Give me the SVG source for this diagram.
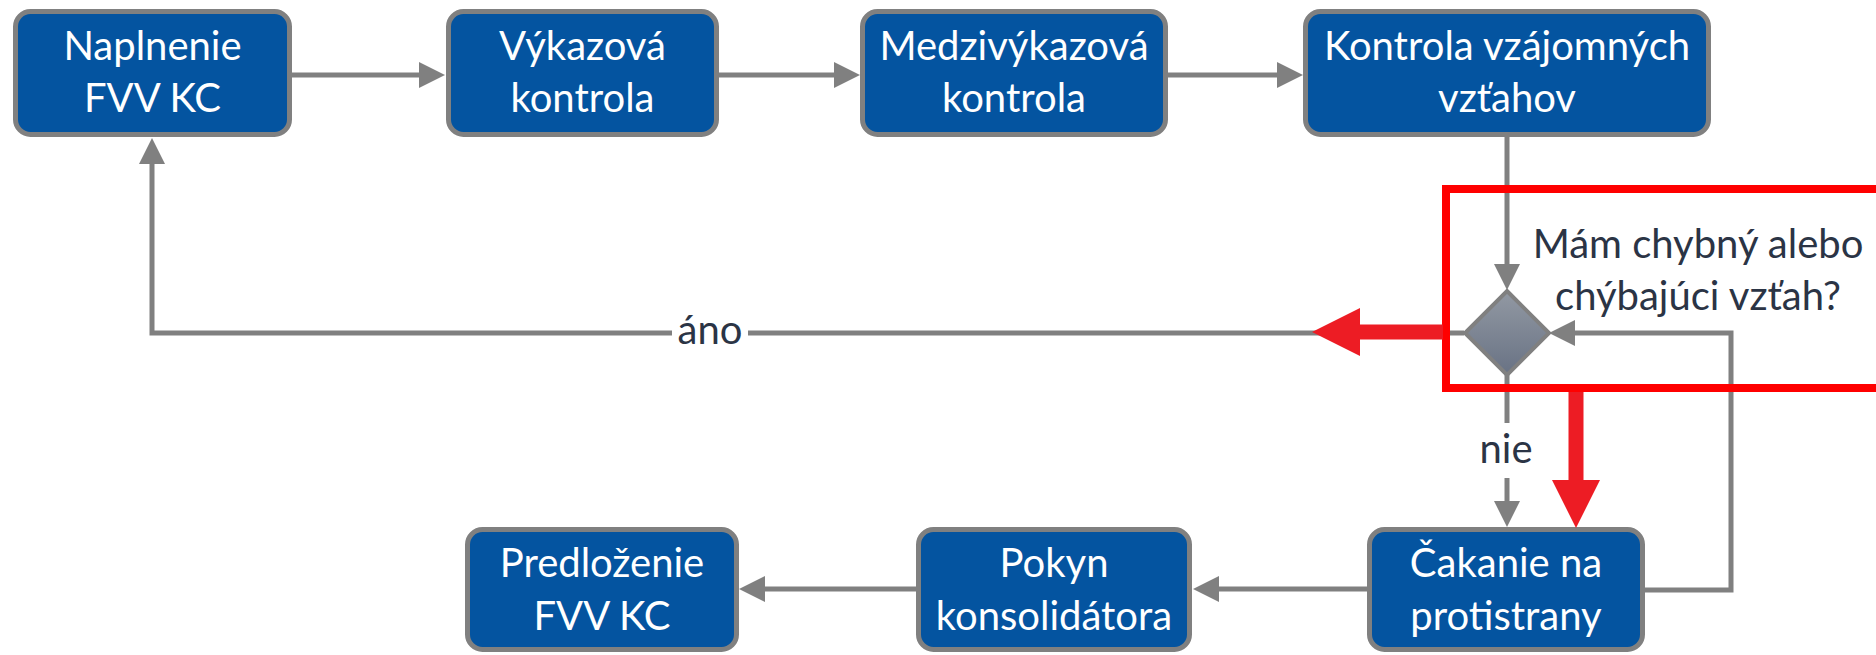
<svg xmlns="http://www.w3.org/2000/svg" width="1876" height="655" viewBox="0 0 1876 655">
<style>
.box{fill:#0454a0;stroke:#808080;stroke-width:5}
.bt{font-family:Lato,"Liberation Sans",sans-serif;font-size:40px;fill:#ffffff;text-anchor:middle}
.lb{font-family:Lato,"Liberation Sans",sans-serif;font-size:40px;fill:#2b3445;text-anchor:middle}
.ln{fill:none;stroke:#808080;stroke-width:5}
.ra{fill:none;stroke:#ed1c24;stroke-width:15}
</style>
<defs>
<marker id="ah" markerUnits="userSpaceOnUse" markerWidth="26" markerHeight="26" viewBox="0 0 26 26" refX="2" refY="13" orient="auto">
<path d="M0,0 L26,13 L0,26 z" fill="#808080"/>
</marker>
<marker id="rah" markerUnits="userSpaceOnUse" markerWidth="48" markerHeight="48" viewBox="0 0 48 48" refX="2" refY="24" orient="auto">
<path d="M0,0 L48,24 L0,48 z" fill="#ed1c24"/>
</marker>
<linearGradient id="dg" x1="0" y1="0" x2="0" y2="1">
<stop offset="0" stop-color="#9299a3"/>
<stop offset="1" stop-color="#687284"/>
</linearGradient>
</defs>
<g id="connectors">
<path class="ln" d="M292,75 H421" marker-end="url(#ah)"/>
<path class="ln" d="M719,75 H836" marker-end="url(#ah)"/>
<path class="ln" d="M1168,75 H1279" marker-end="url(#ah)"/>
<path class="ln" d="M1507,137 V266" marker-end="url(#ah)"/>
<path class="ln" d="M1464,333 H748"/>
<path class="ln" d="M672,333 H152 V162" marker-end="url(#ah)"/>
<path class="ln" d="M1507,373 V423"/>
<path class="ln" d="M1507,478 V503" marker-end="url(#ah)"/>
<path class="ln" d="M1645,590 H1731 V333 H1573" marker-end="url(#ah)"/>
<path class="ln" d="M1367,589 H1217" marker-end="url(#ah)"/>
<path class="ln" d="M916,589 H763" marker-end="url(#ah)"/>
<text class="lb" x="710" y="344">áno</text>
<text class="lb" x="1506" y="463">nie</text>
</g>
<g id="n1"><rect class="box" x="15.5" y="11.5" width="274" height="123" rx="15"/><text class="bt" x="152.5" y="60">Naplnenie</text><text class="bt" x="152.5" y="112">FVV KC</text></g>
<g id="n2"><rect class="box" x="448.5" y="11.5" width="268" height="123" rx="15"/><text class="bt" x="582.5" y="60">Výkazová</text><text class="bt" x="582.5" y="112">kontrola</text></g>
<g id="n3"><rect class="box" x="862.5" y="11.5" width="303" height="123" rx="15"/><text class="bt" x="1014" y="60">Medzivýkazová</text><text class="bt" x="1014" y="112">kontrola</text></g>
<g id="n4"><rect class="box" x="1305.5" y="11.5" width="403" height="123" rx="15"/><text class="bt" x="1507" y="60">Kontrola vzájomných</text><text class="bt" x="1507" y="112">vzťahov</text></g>
<g id="d1"><path d="M1507,291 L1549,333 L1507,375 L1465,333 z" fill="url(#dg)" stroke="#808080" stroke-width="4"/><text class="lb" x="1698" y="258">Mám chybný alebo</text><text class="lb" x="1698" y="310">chýbajúci vzťah?</text></g>
<g id="n5"><rect class="box" x="1369.5" y="529.5" width="273" height="120" rx="15"/><text class="bt" x="1506" y="577">Čakanie na</text><text class="bt" x="1506" y="630">protistrany</text></g>
<g id="n6"><rect class="box" x="918.5" y="529.5" width="271" height="120" rx="15"/><text class="bt" x="1054" y="577">Pokyn</text><text class="bt" x="1054" y="630">konsolidátora</text></g>
<g id="n7"><rect class="box" x="467.5" y="529.5" width="269" height="120" rx="15"/><text class="bt" x="602" y="577">Predloženie</text><text class="bt" x="602" y="630">FVV KC</text></g>
<g id="highlight">
<rect x="1446" y="189" width="440" height="199" fill="none" stroke="#ff0000" stroke-width="8"/>
<path class="ra" d="M1443,332 H1358" marker-end="url(#rah)"/>
<path class="ra" d="M1576,392 V482" marker-end="url(#rah)"/>
</g>
</svg>
